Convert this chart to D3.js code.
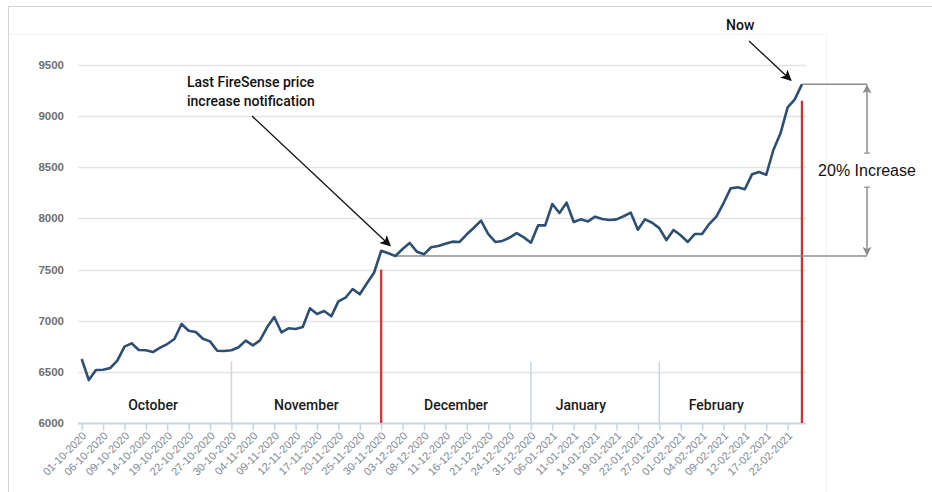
<!DOCTYPE html>
<html>
<head>
<meta charset="utf-8">
<script src="https://cdn.jsdelivr.net/npm/d3@7"></script>
<style>
  body { margin: 0; background: #fff; }
  svg { display: block; font-family: "Liberation Sans", Arial, sans-serif; }
</style>
</head>
<body>
<div id="chart"></div>
<script>
// daily closing values, one per trading day, 01-10-2020 .. 24-02-2021
const prices = [
  6626, 6420, 6518, 6521, 6538, 6609, 6746, 6779, 6714, 6711,
  6694, 6736, 6772, 6821, 6968, 6902, 6890, 6824, 6798, 6707,
  6704, 6711, 6740, 6805, 6759, 6808, 6935, 7036, 6887, 6926,
  6919, 6938, 7121, 7066, 7095, 7043, 7189, 7225, 7310, 7258,
  7366, 7469, 7684, 7659, 7633, 7701, 7760, 7675, 7649, 7718,
  7730, 7753, 7773, 7770, 7845, 7909, 7978, 7848, 7770, 7780,
  7812, 7857, 7815, 7763, 7932, 7932, 8141, 8053, 8154, 7965,
  7991, 7971, 8017, 7994, 7985, 7991, 8021, 8056, 7890, 7991,
  7958, 7905, 7789, 7887, 7835, 7770, 7848, 7848, 7945, 8017,
  8148, 8294, 8304, 8285, 8431, 8454, 8427, 8669, 8832, 9086,
  9164, 9311
];

// tick labels, one every 3 trading days
const tickLabels = [
  '01-10-2020', '06-10-2020', '09-10-2020', '14-10-2020', '19-10-2020', '22-10-2020',
  '27-10-2020', '30-10-2020', '04-11-2020', '09-11-2020', '12-11-2020', '17-11-2020',
  '20-11-2020', '25-11-2020', '30-11-2020', '03-12-2020', '08-12-2020', '11-12-2020',
  '16-12-2020', '21-12-2020', '24-12-2020', '31-12-2020', '06-01-2021', '11-01-2021',
  '14-01-2021', '19-01-2021', '22-01-2021', '27-01-2021', '01-02-2021', '04-02-2021',
  '09-02-2021', '12-02-2021', '17-02-2021', '22-02-2021'
];
const tickStep = 3;

const yTicks = [6000, 6500, 7000, 7500, 8000, 8500, 9000, 9500];

const months = ['October', 'November', 'December', 'January', 'February'];
const monthLabelIdx = [10, 31.5, 52.5, 70, 89];
const monthSepIdx = [21, 63, 81];
const monthSepTop = 6600;

const notifyIdx = 42;      // last price increase notification
const notifyTop = 7500;
const nowIdx = 101;
const nowTop = 9150;
const baseIdx = 44;        // reference level for the increase

const width = 932, height = 492;
const labelFont = 'Roboto, "Liberation Sans", Arial, sans-serif';

const svg = d3.select('#chart').append('svg')
  .attr('width', width)
  .attr('height', height);

const defs = svg.append('defs');
function marker(id, color, w, h) {
  defs.append('marker')
    .attr('id', id)
    .attr('viewBox', '0 0 10 10')
    .attr('refX', 9).attr('refY', 5)
    .attr('markerUnits', 'userSpaceOnUse')
    .attr('markerWidth', w).attr('markerHeight', h)
    .attr('orient', 'auto')
    .append('path')
    .attr('d', 'M0,0 L10,5 L0,10 L2.5,5 z')
    .attr('fill', color);
}
marker('arrowBlack', '#111', 13, 11);
marker('arrowGray', '#8c8c8c', 14, 9);

// frame
svg.append('line').attr('x1', 8).attr('x2', width).attr('y1', 6.5).attr('y2', 6.5)
  .attr('stroke', '#d4d4d4');
svg.append('line').attr('x1', 8.5).attr('x2', 8.5).attr('y1', 6).attr('y2', height)
  .attr('stroke', '#d4d4d4');
svg.append('line').attr('x1', 9).attr('x2', 826).attr('y1', 34.5).attr('y2', 34.5)
  .attr('stroke', '#f3f3f3');
svg.append('line').attr('x1', 826.5).attr('x2', 826.5).attr('y1', 34).attr('y2', height)
  .attr('stroke', '#f3f3f3');

const x = d3.scaleLinear().domain([0, prices.length - 1]).range([81.7, 801.9]);
const y = d3.scaleLinear().domain([6000, 9500]).range([423, 65]);
const gridX0 = 78, gridX1 = 806;

// grid
svg.append('g')
  .selectAll('line')
  .data(yTicks.slice(1))
  .join('line')
  .attr('x1', gridX0).attr('x2', gridX1)
  .attr('y1', d => Math.round(y(d)) + 0.5).attr('y2', d => Math.round(y(d)) + 0.5)
  .attr('stroke', '#e3e3e3')
  .attr('stroke-width', 1.5);

// y labels
svg.append('g')
  .selectAll('text')
  .data(yTicks)
  .join('text')
  .attr('x', 64)
  .attr('y', d => y(d) + 4)
  .attr('text-anchor', 'end')
  .attr('font-size', 11.5)
  .attr('font-weight', 'bold')
  .attr('fill', '#6f6f6f')
  .text(d => d);

// x axis
const tickIdx = tickLabels.map((d, i) => i * tickStep);
const xAxis = d3.axisBottom(x)
  .tickValues(tickIdx)
  .tickSize(7)
  .tickFormat((d, i) => tickLabels[i]);

const gx = svg.append('g')
  .attr('transform', `translate(0, ${Math.round(y(6000)) + 0.5})`)
  .call(xAxis);
gx.select('.domain').remove();
gx.append('line')
  .attr('x1', gridX0).attr('x2', gridX1)
  .attr('stroke', '#c9d5e3').attr('stroke-width', 2);
gx.selectAll('.tick line').attr('stroke', '#c9d5e3').attr('stroke-width', 1.5);
gx.selectAll('.tick text')
  .attr('font-size', 11)
  .attr('fill', '#7d8899')
  .attr('text-anchor', 'end')
  .attr('x', 0).attr('y', 0)
  .attr('dy', null)
  .attr('transform', 'translate(5, 13) rotate(-45)');

// month separators
svg.append('g')
  .selectAll('line')
  .data(monthSepIdx)
  .join('line')
  .attr('x1', d => x(d)).attr('x2', d => x(d))
  .attr('y1', y(6000)).attr('y2', y(monthSepTop))
  .attr('stroke', '#c9d5e3')
  .attr('stroke-width', 1.5);

// month labels
svg.append('g')
  .selectAll('text')
  .data(months)
  .join('text')
  .attr('x', (d, i) => x(monthLabelIdx[i]))
  .attr('y', 410)
  .attr('text-anchor', 'middle')
  .attr('font-family', labelFont)
  .attr('font-weight', 500)
  .attr('font-size', 14)
  .attr('fill', '#1a1a1a')
  .text(d => d);

// red markers
svg.append('g')
  .selectAll('line')
  .data([[notifyIdx, notifyTop], [nowIdx, nowTop]])
  .join('line')
  .attr('x1', d => x(d[0])).attr('x2', d => x(d[0]))
  .attr('y1', y(6000)).attr('y2', d => y(d[1]))
  .attr('stroke', '#e02a2a')
  .attr('stroke-width', 2.2);

// reference levels
const armX = 867;
const yBase = y(prices[baseIdx]);
const yNow = y(prices[nowIdx]);
svg.append('line')
  .attr('x1', x(baseIdx)).attr('x2', armX)
  .attr('y1', yBase).attr('y2', yBase)
  .attr('stroke', '#8c8c8c').attr('stroke-width', 1.5);
svg.append('line')
  .attr('x1', x(nowIdx)).attr('x2', armX)
  .attr('y1', yNow).attr('y2', yNow)
  .attr('stroke', '#8c8c8c').attr('stroke-width', 1.5);

// price line
svg.append('path')
  .datum(prices)
  .attr('fill', 'none')
  .attr('stroke', '#2c4f73')
  .attr('stroke-width', 2.6)
  .attr('stroke-linejoin', 'round')
  .attr('d', d3.line().x((d, i) => x(i)).y(d => y(d)));

// double arrow for the increase
const midY = (yBase + yNow) / 2;
svg.append('line')
  .attr('x1', armX).attr('x2', armX)
  .attr('y1', midY - 17).attr('y2', yNow + 1)
  .attr('stroke', '#8c8c8c').attr('stroke-width', 1.5)
  .attr('marker-end', 'url(#arrowGray)');
svg.append('line')
  .attr('x1', armX).attr('x2', armX)
  .attr('y1', midY + 17).attr('y2', yBase - 1)
  .attr('stroke', '#8c8c8c').attr('stroke-width', 1.5)
  .attr('marker-end', 'url(#arrowGray)');
[midY - 17, midY + 17].forEach(v => {
  svg.append('line')
    .attr('x1', armX - 3).attr('x2', armX + 3)
    .attr('y1', v).attr('y2', v)
    .attr('stroke', '#8c8c8c').attr('stroke-width', 1.2);
});
svg.append('text')
  .attr('x', armX).attr('y', midY + 6)
  .attr('text-anchor', 'middle')
  .attr('font-size', 16)
  .attr('fill', '#111')
  .text('20% Increase');

// annotations
const notes = svg.append('g')
  .attr('font-family', labelFont)
  .attr('font-size', 14)
  .attr('font-weight', 500)
  .attr('fill', '#111');
notes.append('text').attr('x', 187).attr('y', 87).text('Last FireSense price');
notes.append('text').attr('x', 187).attr('y', 106).text('increase notification');
notes.append('text').attr('x', 726).attr('y', 30).text('Now');

svg.append('line')
  .attr('x1', 252).attr('y1', 116)
  .attr('x2', x(notifyIdx) + 9).attr('y2', y(prices[notifyIdx]) - 5)
  .attr('stroke', '#111').attr('stroke-width', 1.3)
  .attr('marker-end', 'url(#arrowBlack)');
svg.append('line')
  .attr('x1', 749).attr('y1', 41)
  .attr('x2', x(nowIdx) - 11).attr('y2', yNow - 4)
  .attr('stroke', '#111').attr('stroke-width', 1.3)
  .attr('marker-end', 'url(#arrowBlack)');
</script>
</body>
</html>
